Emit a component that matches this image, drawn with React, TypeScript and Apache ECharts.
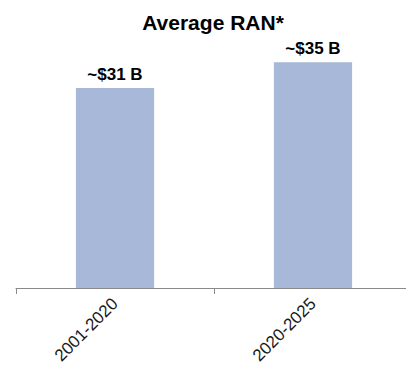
import React, { useEffect, useRef } from "react";
import * as echarts from "echarts";

const categories = ["2001-2020", "2020-2025"];
const values = [31, 35];
const valueLabels = ["~$31 B", "~$35 B"];
const titleText = "Average RAN*";

export default function App() {
  const ref = useRef<HTMLDivElement>(null);
  useEffect(() => {
    if (!ref.current) return;
    const chart = echarts.init(ref.current, null, { renderer: "svg" });
    chart.setOption({
      animation: false,
      backgroundColor: "#ffffff",
      title: {
        text: titleText,
        left: 208,
        top: 7,
        textAlign: "center",
        textStyle: {
          fontFamily: "Liberation Sans, Arial, sans-serif",
          fontWeight: "bold",
          fontSize: 21,
          color: "#000000",
        },
      },
      grid: { left: 16, top: 30, width: 396, height: 258, containLabel: false },
      xAxis: {
        type: "category",
        data: categories,
        axisLine: { lineStyle: { color: "#8a8a8a", width: 1 } },
        axisTick: { show: true, length: 6, alignWithLabel: false, lineStyle: { color: "#8a8a8a" } },
        axisLabel: {
          rotate: 45,
          margin: 13,
          fontSize: 17,
          color: "#1a1a1a",
          fontFamily: "Liberation Sans, Arial, sans-serif",
        },
      },
      yAxis: {
        type: "value",
        min: 0,
        max: 40,
        show: false,
        splitLine: { show: false },
      },
      series: [
        {
          type: "bar",
          data: values,
          barWidth: "39.5%",
          itemStyle: { color: "#a7b8d8" },
          label: {
            show: true,
            position: "top",
            distance: 5,
            formatter: (p: any) => valueLabels[p.dataIndex],
            fontFamily: "Liberation Sans, Arial, sans-serif",
            fontWeight: "bold",
            fontSize: 17,
            color: "#000000",
          },
        },
      ],
    });
    return () => chart.dispose();
  }, []);
  return (
    <div style={{ position: "absolute", left: 0, top: 0, width: 406, height: 372, overflow: "hidden" }}>
      <div ref={ref} style={{ width: 420, height: 372 }} />
    </div>
  );
}
